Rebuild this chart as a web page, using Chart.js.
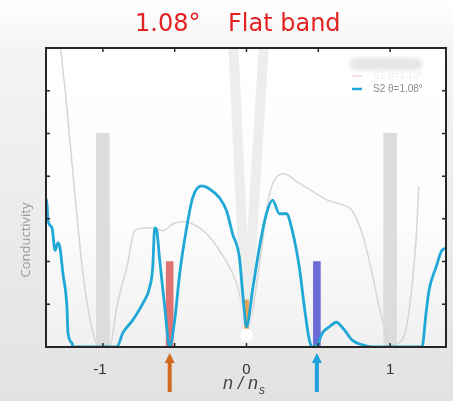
<!DOCTYPE html>
<html>
<head>
<meta charset="utf-8">
<script src="https://cdn.jsdelivr.net/npm/chart.js@4"></script>
<style>
  html, body { margin: 0; padding: 0; }
  body { width: 453px; height: 401px; background: linear-gradient(#ffffff 0px, #f4f4f4 50px, #e2e2e2 401px); }
  canvas { display: block; }
</style>
</head>
<body>
<canvas id="chart" width="453" height="401"></canvas>
<script>
// S2 theta=1.08 (blue) - n/ns vs conductivity (arb.)
const s2N = [-1.40, -1.389, -1.382, -1.354, -1.333, -1.313, -1.299, -1.278, -1.250, -1.243, -1.215, -1.208,
  -0.903, -0.861, -0.792, -0.722, -0.674, -0.653, -0.639, -0.625, -0.604, -0.569, -0.535,
  -0.500, -0.465, -0.417, -0.375, -0.3125, -0.257, -0.1875, -0.139, -0.097, -0.049, -0.025, 0,
  0.042, 0.090, 0.139, 0.181, 0.229, 0.278, 0.319, 0.368, 0.403, 0.4375, 0.458, 0.493, 0.528,
  0.576, 0.625, 0.681, 0.736, 0.806, 0.875, 1.222, 1.25, 1.271, 1.319, 1.361, 1.41];
const s2Sigma = [3.5, 3.35, 2.95, 2.79, 2.26, 2.44, 2.33, 1.72, 0.93, 0.33, 0.09, 0,
  0, 0.33, 0.63, 1.02, 1.40, 1.86, 2.79, 2.72, 2.02, 0.93, 0,
  0.63, 1.72, 2.79, 3.49, 3.77, 3.70, 3.49, 3.19, 2.65, 2.09, 1.2, 0.47,
  1.33, 2.33, 3.12, 3.44, 3.12, 3.12, 2.72, 1.86, 0.93, 0.16, 0, 0.05, 0.33,
  0.47, 0.58, 0.40, 0.16, 0.05, 0, 0, 0.79, 1.33, 1.86, 2.26, 2.33];

// S1 (grey, faint) curve
const s1N = [-1.30, -1.25, -1.208, -1.139, -1.069, -1.035, -0.95, -0.903, -0.868, -0.833, -0.778, -0.694,
  -0.625, -0.583, -0.514, -0.444, -0.375, -0.278, -0.1875, -0.097, -0.049, 0,
  0.104, 0.139, 0.181, 0.264, 0.347, 0.458, 0.576, 0.646, 0.736, 0.806, 0.875, 0.924, 0.972,
  1.0, 1.083, 1.18, 1.20];
const s1Sigma = [7.2, 5.58, 4.05, 1.72, 0.33, 0.05, 0.05, 0.93, 1.44, 1.86, 2.72, 2.79,
  2.77, 2.72, 2.88, 2.93, 2.88, 2.65, 2.26, 1.72, 1.26, 0.4,
  2.26, 3.19, 3.81, 4.05, 3.88, 3.65, 3.42, 3.35, 3.19, 2.65, 1.72, 0.93, 0.33,
  0.05, 0.16, 2.49, 3.77];

// overlay V at charge neutrality
const vN = [-0.095, 0, 0.125];
const vSigma = [7.3, 0.45, 7.3];

// marker bars
const greyBarN = [-1, 1];
const greyBarH = [5, 5];
const redBarN = -0.535;
const blueBarN = 0.49;
const markBarH = 2;
const orangeBar = [0.4, 1.1];
const dotN = 0, dotSigma = 0.28;

// axes
const xMin = -1.396, xMax = 1.389, yMin = 0, yMax = 7;
const xTicks = [-1, -0.5, 0, 0.5, 1];
const xTickLabels = ['-1', '', '0', '', '1'];
const yTicks = [1, 2, 3, 4, 5, 6];
const legendLabels = ['S1 θ=1.10°', 'S2 θ=1.08°'];

const pts = (xs, ys) => xs.map((x, i) => ({ x: x, y: ys[i] }));

const decor = {
  id: 'decor',
  beforeDraw(chart) {
    const { ctx, chartArea: a } = chart;
    const g = ctx.createLinearGradient(0, a.top, 0, a.bottom);
    g.addColorStop(0, '#ffffff');
    g.addColorStop(0.6, '#fcfcfc');
    g.addColorStop(1, '#f0f0f0');
    ctx.save();
    ctx.fillStyle = g;
    ctx.fillRect(a.left, a.top, a.right - a.left, a.bottom - a.top);
    ctx.restore();
  },
  afterDraw(chart) {
    const { ctx, chartArea: a, scales: { x, y } } = chart;
    ctx.save();
    // frame
    ctx.strokeStyle = '#262626';
    ctx.lineWidth = 2;
    ctx.strokeRect(a.left, a.top, a.right - a.left, a.bottom - a.top);
    // inward ticks
    ctx.lineWidth = 1.5;
    ctx.beginPath();
    xTicks.forEach(v => {
      const px = x.getPixelForValue(v);
      ctx.moveTo(px, a.bottom); ctx.lineTo(px, a.bottom - 4);
      ctx.moveTo(px, a.top); ctx.lineTo(px, a.top + 4);
    });
    yTicks.forEach(v => {
      const py = y.getPixelForValue(v);
      ctx.moveTo(a.left, py); ctx.lineTo(a.left + 4, py);
      ctx.moveTo(a.right, py); ctx.lineTo(a.right - 4, py);
    });
    ctx.stroke();
    // tick labels
    ctx.fillStyle = '#333';
    ctx.font = '15px "Liberation Sans", Arial, sans-serif';
    ctx.textAlign = 'center';
    ctx.textBaseline = 'middle';
    xTicks.forEach((v, i) => {
      if (xTickLabels[i]) ctx.fillText(xTickLabels[i], x.getPixelForValue(v) - (v < 0 ? 3 : 0), 370);
    });
    // x title n / n_s
    ctx.fillStyle = '#444';
    ctx.font = 'italic 18px "Liberation Sans", Arial, sans-serif';
    ctx.textAlign = 'left';
    ctx.fillText('n / n', 223, 384);
    ctx.font = 'italic 12px "Liberation Sans", Arial, sans-serif';
    ctx.fillText('s', 259, 391);
    // y title
    ctx.save();
    ctx.translate(26, 240);
    ctx.rotate(-Math.PI / 2);
    ctx.textAlign = 'center';
    ctx.fillStyle = '#9a9a9a';
    ctx.font = '13px "Open Sans", sans-serif';
    ctx.fillText('Conductivity', 0, 0);
    ctx.restore();
    // arrows under the marker bars
    const arrow = (px, col) => {
      ctx.fillStyle = col;
      ctx.fillRect(px - 2, 361, 4, 31);
      ctx.beginPath();
      ctx.moveTo(px, 353); ctx.lineTo(px - 5, 363); ctx.lineTo(px + 5, 363);
      ctx.closePath(); ctx.fill();
    };
    arrow(x.getPixelForValue(redBarN), '#d2691e');
    arrow(x.getPixelForValue(blueBarN), '#1fa2da');
    // legend
    ctx.save();
    ctx.filter = 'blur(2px)';
    ctx.fillStyle = '#e6e6e6';
    ctx.beginPath();
    ctx.roundRect(349, 58, 74, 12, 6);
    ctx.fill();
    ctx.restore();
    ctx.lineWidth = 2;
    ctx.strokeStyle = '#f3e4e0';
    ctx.beginPath(); ctx.moveTo(352, 76); ctx.lineTo(362, 76); ctx.stroke();
    ctx.strokeStyle = '#20a8d6';
    ctx.lineWidth = 2.5;
    ctx.beginPath(); ctx.moveTo(352, 89); ctx.lineTo(362, 89); ctx.stroke();
    ctx.font = '10px "Liberation Sans", Arial, sans-serif';
    ctx.textBaseline = 'middle';
    ctx.fillStyle = '#efefef';
    ctx.fillText(legendLabels[0], 373, 76);
    ctx.fillStyle = '#8a8a8a';
    ctx.fillText(legendLabels[1], 373, 89);
    // handwritten title
    ctx.fillStyle = '#e52222';
    ctx.font = '24px "DejaVu Sans", sans-serif';
    ctx.textBaseline = 'alphabetic';
    ctx.fillText('1.08°', 135, 31);
    ctx.fillText('Flat band', 228, 31);
    ctx.restore();
  }
};

new Chart(document.getElementById('chart'), {
  type: 'line',
  data: {
    datasets: [
      { type: 'bar', data: pts(greyBarN, greyBarH), backgroundColor: '#dcdcdc', barThickness: 13, grouped: false, order: 6 },
      { data: pts(s1N, s1Sigma), borderColor: '#d6d6d6', borderWidth: 1.5, pointRadius: 0, cubicInterpolationMode: 'monotone', order: 5 },
      { data: pts(vN, vSigma), borderColor: '#ededed', borderWidth: 10, pointRadius: 0, tension: 0, order: 4 },
      { type: 'bar', data: [{ x: 0, y: orangeBar }], backgroundColor: '#e6a24e', barThickness: 4, grouped: false, order: 3 },
      { type: 'bar', data: [{ x: redBarN, y: markBarH }], backgroundColor: '#e07272', barThickness: 7, grouped: false, order: 2 },
      { type: 'bar', data: [{ x: blueBarN, y: markBarH }], backgroundColor: '#6c6cd8', barThickness: 7, grouped: false, order: 2 },
      { data: pts(s2N, s2Sigma), borderColor: '#1fa8d6', borderWidth: 2.8, pointRadius: 0, cubicInterpolationMode: 'monotone', order: 1 },
      { type: 'scatter', data: [{ x: dotN, y: dotSigma }], backgroundColor: '#ffffff', borderColor: '#ffffff', pointRadius: 6, order: 0 }
    ]
  },
  options: {
    responsive: false,
    animation: false,
    layout: { padding: { left: 46, top: 48, right: 6, bottom: 54 } },
    plugins: { legend: { display: false }, tooltip: { enabled: false } },
    scales: {
      x: { type: 'linear', min: xMin, max: xMax, display: false, offset: false },
      y: { type: 'linear', min: yMin, max: yMax, display: false }
    }
  },
  plugins: [decor]
});
</script>
</body>
</html>
